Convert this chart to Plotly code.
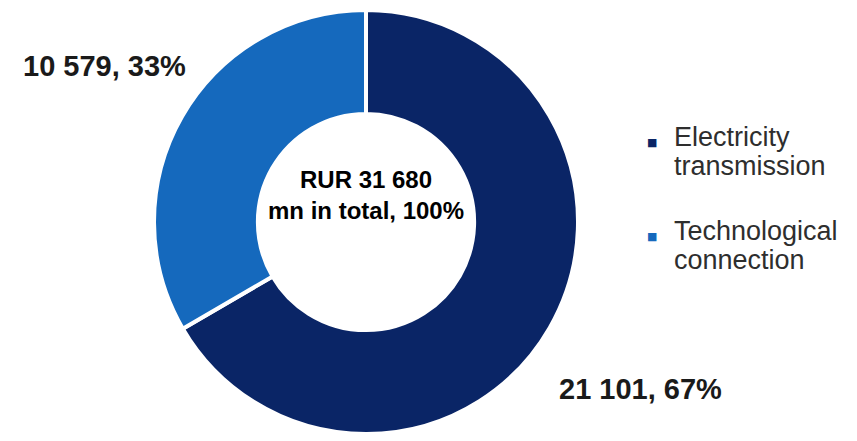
import plotly.graph_objects as go

# Revenue structure, RUR mn
categories = ["Electricity transmission", "Technological connection"]
legend_lines = [["Electricity", "transmission"], ["Technological", "connection"]]
values = [21101, 10579]
colors = ["#0a2566", "#1569bd"]

total = sum(values)
shares = [round(v / total * 100) for v in values]


def fmt(n):
    return f"{n:,}".replace(",", " ")


W, H = 857, 441

fig = go.Figure(
    go.Pie(
        labels=categories,
        values=values,
        hole=0.51,
        sort=False,
        direction="clockwise",
        rotation=0,
        marker=dict(colors=colors, line=dict(color="white", width=4)),
        textinfo="none",
        hoverinfo="label+value+percent",
        showlegend=False,
        domain=dict(x=[154 / W, 578 / W], y=[(H - 434) / H, (H - 10) / H]),
    )
)

font_bold = "Liberation Sans, Arial, sans-serif"
annotations = []

# slice value labels
label_pos = [(640, 389), (104, 66)]
for v, s, (px, py) in zip(values, shares, label_pos):
    annotations.append(dict(
        x=px / W, y=1 - py / H, xref="paper", yref="paper",
        text=f"<b>{fmt(v)}, {s}%</b>", showarrow=False,
        font=dict(family=font_bold, size=29, color="#1a1a1a"),
        xanchor="center", yanchor="middle",
    ))

# total in the centre of the ring
centre_text = f"<b>RUR {fmt(total)}<br>mn in total, {sum(shares)}%</b>"
annotations.append(dict(
    x=366 / W, y=1 - 195 / H, xref="paper", yref="paper",
    text=centre_text, showarrow=False, align="center",
    font=dict(family=font_bold, size=24, color="#000000"),
    xanchor="center", yanchor="middle",
))

# legend: small square marker plus two text lines per item
legend_top = [137, 231]
for lines, col, top in zip(legend_lines, colors, legend_top):
    annotations.append(dict(
        x=652 / W, y=1 - (top + 5) / H, xref="paper", yref="paper",
        text="■", showarrow=False,
        font=dict(family="DejaVu Sans", size=11, color=col),
        xanchor="center", yanchor="middle",
    ))
    for i, t in enumerate(lines):
        annotations.append(dict(
            x=672 / W, y=1 - (top + i * 29) / H, xref="paper", yref="paper",
            text=t, showarrow=False,
            font=dict(family="Liberation Sans, Arial, sans-serif", size=27, color="#2e2e2e"),
            xanchor="left", yanchor="middle",
        ))

fig.update_layout(
    width=W, height=H,
    margin=dict(l=0, r=0, t=0, b=0),
    paper_bgcolor="white", plot_bgcolor="white",
    annotations=annotations,
)

fig.write_html("out.html")
